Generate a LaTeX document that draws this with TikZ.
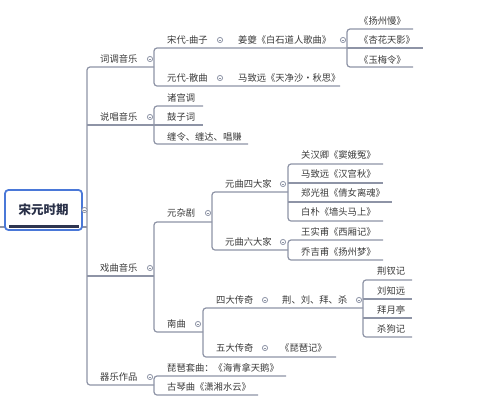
\documentclass[tikz,border=0pt]{standalone}
\usepackage{fontspec}
\newfontfamily\cjk{Noto Sans CJK SC}
\definecolor{lncol}{HTML}{8E94A6}
\definecolor{txtcol}{HTML}{3A3A3A}
\definecolor{rootblue}{HTML}{4A78D8}
\definecolor{rootdark}{HTML}{2E3550}
\begin{document}
\begin{tikzpicture}[x=1pt,y=-1pt,
  txt/.style={anchor=west,inner sep=0pt,font=\cjk\fontsize{9.3}{10}\selectfont,text=txtcol,text height=8.2pt,text depth=1.1pt},
  ln/.style={draw=lncol,line width=1.2pt,rounded corners=3pt},
  btn/.style={draw=lncol,line width=0.8pt,fill=white},
  pics/collapsebtn/.style={code={\draw[btn] (0,0) circle[radius=2.6pt]; \draw[draw=lncol,line width=0.7pt] (-1.2pt,0)--(1.2pt,0);}}]
\useasboundingbox (0,0) rectangle (498,413);
% ---------- connectors ----------
\draw[ln] (0,227) -- (87,227);
\draw[ln] (154,67) -- (87,67) -- (87,385) -- (154,385);
\draw[ln] (87,125) -- (154,125);
\draw[ln] (87,276) -- (154,276);
% 词调音乐
\draw[ln] (347,48) -- (154,48) -- (154,86) -- (340,86);
\draw[ln] (413,29) -- (347,29) -- (347,67) -- (413,67);
\draw[ln] (347,48) -- (423,48);
% 说唱音乐
\draw[ln] (203,106) -- (154,106) -- (154,144) -- (248,144);
\draw[ln] (154,125) -- (203,125);
% 戏曲音乐
\draw[ln] (212,222) -- (154,222) -- (154,332) -- (203,332);
\draw[ln] (288,192) -- (212,192) -- (212,250) -- (288,250);
\draw[ln] (383,164) -- (288,164) -- (288,221) -- (383,221);
\draw[ln] (288,183) -- (383,183);
\draw[ln] (288,202) -- (392,202);
\draw[ln] (383,240) -- (288,240) -- (288,260) -- (383,260);
\draw[ln] (363,308) -- (203,308) -- (203,357) -- (336,357);
\draw[ln] (412,280) -- (363,280) -- (363,337) -- (412,337);
\draw[ln] (363,299) -- (412,299);
\draw[ln] (363,318) -- (412,318);
% 器乐作品
\draw[ln] (286,376) -- (154,376) -- (154,395) -- (258,395);
% ---------- root ----------
\node[draw=rootblue,line width=1.8pt,fill=white,rounded corners=3.5pt,minimum width=77pt,minimum height=40pt,inner sep=0pt] (root) at (43.5,210) {};
\draw[rootdark,line width=2.6pt] (9,226.5) -- (79,226.5);
\node[inner sep=0pt,font=\cjk\fontsize{12.5}{14}\selectfont\bfseries,text=rootdark!90!black] (roottxt) at (43.5,210) {宋元时期};
% ---------- level 1 ----------
\node[txt] (cd) at (100,59) {词调音乐};
\node[txt] (sc) at (100,117) {说唱音乐};
\node[txt] (xq) at (100,268) {戏曲音乐};
\node[txt] (qy) at (100,377) {器乐作品};
% ---------- 词调 ----------
\node[txt] (sdqz) at (167,40) {宋代-曲子};
\node[txt] (jk) at (238,40) {姜夔《白石道人歌曲》};
\node[txt] (yzm) at (359,21) {《扬州慢》};
\node[txt] (xhty) at (359,40) {《杏花天影》};
\node[txt] (ymd) at (359,60) {《玉梅令》};
\node[txt] (ydsq) at (167,78) {元代-散曲};
\node[txt] (mzy) at (238,78) {马致远《天净沙·秋思》};
% ---------- 说唱 ----------
\node[txt] (zgd) at (167,98) {诸宫调};
\node[txt] (gzc) at (167,117) {鼓子词};
\node[txt] (cl) at (167,137) {缠令、缠达、唱赚};
% ---------- 戏曲 ----------
\node[txt] (yzj) at (167,213) {元杂剧};
\node[txt] (ysdj) at (225,184) {元曲四大家};
\node[txt] (ghq) at (301,155) {关汉卿《窦娥冤》};
\node[txt] (mzy2) at (301,174) {马致远《汉宫秋》};
\node[txt] (zgz) at (301,193) {郑光祖《倩女离魂》};
\node[txt] (bp) at (301,212) {白朴《墙头马上》};
\node[txt] (yldj) at (225,242) {元曲六大家};
\node[txt] (wsf) at (301,232) {王实甫《西厢记》};
\node[txt] (qjf) at (301,252) {乔吉甫《扬州梦》};
\node[txt] (nq) at (167,324) {南曲};
\node[txt] (sdcq) at (216,300) {四大传奇};
\node[txt] (jlbs) at (282,300) {荆、刘、拜、杀};
\node[txt] (jcj) at (377,271) {荆钗记};
\node[txt] (lzy) at (377,291) {刘知远};
\node[txt] (byt) at (377,310) {拜月亭};
\node[txt] (sgj) at (377,329) {杀狗记};
\node[txt] (wdcq) at (216,348) {五大传奇};
\node[txt] (ppj) at (280,348) {《琵琶记》};
% ---------- 器乐 ----------
\node[txt] (pptq) at (167,368) {琵琶套曲：《海青拿天鹅》};
\node[txt] (gqq) at (167,387) {古琴曲《潇湘水云》};
% ---------- collapse buttons ----------
\pic at (84.5,210) {collapsebtn};
\pic at (150,59) {collapsebtn};
\pic at (150,117) {collapsebtn};
\pic at (150,268) {collapsebtn};
\pic at (150,377) {collapsebtn};
\pic at (220,40) {collapsebtn};
\pic at (343,40) {collapsebtn};
\pic at (220,78) {collapsebtn};
\pic at (208,213) {collapsebtn};
\pic at (283,184) {collapsebtn};
\pic at (283,242) {collapsebtn};
\pic at (198,324) {collapsebtn};
\pic at (265,300) {collapsebtn};
\pic at (359,300) {collapsebtn};
\pic at (265,348) {collapsebtn};
\end{tikzpicture}
\end{document}
